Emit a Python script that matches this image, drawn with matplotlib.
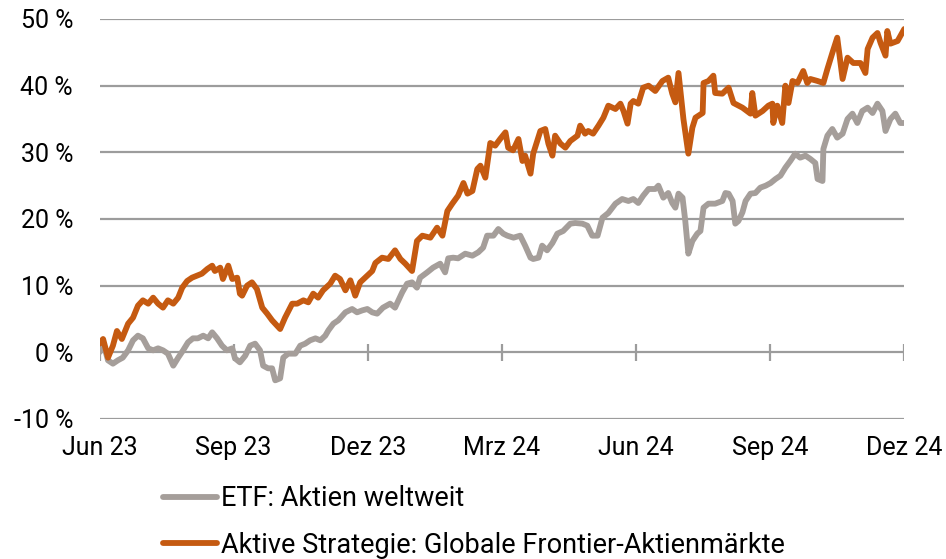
import matplotlib
matplotlib.use("Agg")
import matplotlib.pyplot as plt

plt.rcParams['font.family'] = ['Roboto', 'DejaVu Sans']

# x: months since June 2023 ; y: performance in %
month_ticks = [0, 3, 6, 9, 12, 15, 18]
month_labels = ["Jun 23", "Sep 23", "Dez 23", "Mrz 24", "Jun 24", "Sep 24", "Dez 24"]
y_ticks = [-10, 0, 10, 20, 30, 40, 50]
y_labels = ["-10 %", "0 %", "10 %", "20 %", "30 %", "40 %", "50 %"]

etf_label = "ETF: Aktien weltweit"
etf_t = [0.00, 0.10, 0.19, 0.30, 0.41, 0.52, 0.64, 0.75, 0.86, 0.97, 1.09, 1.20, 1.31, 1.42,
         1.53, 1.65, 1.76, 1.87, 1.98, 2.09, 2.20, 2.32, 2.43, 2.52, 2.63, 2.74, 2.85, 2.97,
         3.03, 3.14, 3.26, 3.37, 3.48, 3.59, 3.66, 3.77, 3.86, 3.93, 4.04, 4.11, 4.22, 4.38,
         4.49, 4.60, 4.71, 4.83, 4.94, 5.05, 5.12, 5.23, 5.34, 5.50, 5.65, 5.76, 5.88, 5.99,
         6.10, 6.21, 6.34, 6.50, 6.61, 6.77, 6.88, 6.99, 7.10, 7.17, 7.33, 7.46, 7.62, 7.73,
         7.80, 7.91, 8.02, 8.18, 8.34, 8.47, 8.58, 8.67, 8.81, 8.92, 9.03, 9.12, 9.26, 9.41,
         9.52, 9.64, 9.70, 9.82, 9.90, 10.01, 10.13, 10.24, 10.37, 10.53, 10.64, 10.80, 10.91,
         11.02, 11.14, 11.25, 11.38, 11.54, 11.69, 11.83, 11.94, 12.05, 12.16, 12.28, 12.43,
         12.50, 12.61, 12.72, 12.81, 12.88, 12.95, 13.04, 13.10, 13.17, 13.26, 13.37, 13.44,
         13.51, 13.62, 13.77, 13.93, 14.00, 14.07, 14.16, 14.22, 14.29, 14.38, 14.45, 14.56,
         14.67, 14.78, 14.90, 15.01, 15.12, 15.23, 15.34, 15.45, 15.56, 15.67, 15.79, 15.90,
         16.01, 16.06, 16.17, 16.19, 16.28, 16.39, 16.50, 16.62, 16.73, 16.84, 16.95, 17.06,
         17.18, 17.29, 17.40, 17.51, 17.58, 17.69, 17.80, 17.91, 18.00]
etf_v = [0.0, 1.0, -1.2, -1.7, -1.2, -0.8, 0.3, 1.8, 2.5, 2.1, 0.6, 0.3, 0.6, 0.3,
         -0.2, -2.0, -0.8, 0.3, 1.5, 2.1, 2.1, 2.5, 2.1, 3.0, 2.1, 1.0, 0.3, 0.6,
         -0.9, -1.5, -0.5, 1.0, 1.3, 0.3, -2.0, -2.4, -2.4, -4.2, -3.9, -0.8, -0.2, -0.2,
         1.0, 1.3, 1.8, 2.1, 1.8, 2.5, 3.3, 4.3, 4.8, 6.0, 6.5, 6.0, 6.3, 6.5,
         6.0, 5.8, 6.7, 7.3, 6.7, 9.0, 10.3, 10.5, 9.7, 11.2, 12.0, 12.7, 13.3, 12.0,
         14.1, 14.2, 14.1, 14.8, 14.5, 15.0, 15.7, 17.5, 17.5, 18.5, 17.8, 17.5, 17.2, 17.5,
         16.0, 14.2, 14.0, 14.2, 16.0, 15.3, 16.4, 17.8, 18.2, 19.3, 19.4, 19.3, 19.0,
         17.5, 17.5, 20.2, 20.9, 22.3, 23.0, 22.7, 23.0, 22.4, 23.5, 24.5, 24.5,
         25.0, 23.2, 23.9, 22.4, 21.7, 23.8, 23.2, 19.8, 14.8, 16.7, 17.8, 18.2,
         21.7, 22.3, 22.3, 22.7, 23.9, 23.8, 22.7, 19.3, 19.7, 21.0, 22.7, 23.8,
         23.9, 24.7, 25.0, 25.4, 26.0, 26.5, 27.7, 28.7, 29.8, 29.2, 29.5, 29.0,
         28.4, 26.0, 25.7, 30.5, 32.5, 33.5, 32.2, 32.8, 35.0, 35.8, 34.4, 36.2,
         36.7, 35.9, 37.3, 36.2, 33.2, 35.0, 35.8, 34.4, 34.4]

akt_label = "Aktive Strategie: Globale Frontier-Aktienmärkte"
akt_t = [0.00, 0.08, 0.19, 0.30, 0.39, 0.50, 0.64, 0.75, 0.86, 0.97, 1.09, 1.20, 1.31, 1.42,
         1.53, 1.65, 1.76, 1.85, 1.96, 2.07, 2.18, 2.29, 2.41, 2.52, 2.58, 2.70, 2.76, 2.88,
         2.97, 3.08, 3.14, 3.19, 3.30, 3.41, 3.52, 3.64, 3.75, 3.86, 3.97, 4.04, 4.15, 4.31,
         4.42, 4.56, 4.67, 4.78, 4.89, 5.00, 5.16, 5.27, 5.38, 5.50, 5.61, 5.72, 5.83, 5.99,
         6.10, 6.17, 6.32, 6.46, 6.61, 6.73, 6.84, 6.99, 7.10, 7.22, 7.40, 7.55, 7.67, 7.78,
         7.89, 8.02, 8.14, 8.23, 8.34, 8.45, 8.52, 8.63, 8.74, 8.85, 8.96, 9.08, 9.14, 9.25,
         9.37, 9.46, 9.52, 9.64, 9.70, 9.86, 9.97, 10.04, 10.13, 10.19, 10.31, 10.42, 10.53,
         10.69, 10.75, 10.86, 10.93, 11.04, 11.16, 11.27, 11.38, 11.54, 11.65, 11.72, 11.81,
         11.88, 11.94, 12.05, 12.16, 12.28, 12.43, 12.59, 12.72, 12.81, 12.88, 12.95, 13.06,
         13.17, 13.26, 13.33, 13.49, 13.51, 13.62, 13.73, 13.77, 13.93, 14.07, 14.18, 14.38,
         14.56, 14.60, 14.67, 14.83, 14.96, 15.05, 15.07, 15.16, 15.27, 15.34, 15.41, 15.50,
         15.61, 15.74, 15.83, 15.90, 16.06, 16.19, 16.28, 16.39, 16.50, 16.62, 16.73, 16.86,
         17.02, 17.13, 17.18, 17.29, 17.40, 17.47, 17.58, 17.62, 17.69, 17.85, 18.00]
akt_v = [1.3, 2.0, -0.8, 1.0, 3.2, 2.0, 4.3, 5.2, 7.0, 7.8, 7.3, 8.2, 7.3, 6.7,
         7.8, 7.3, 8.2, 9.7, 10.7, 11.2, 11.5, 11.8, 12.5, 13.0, 12.2, 12.7, 11.0, 13.0,
         11.0, 11.2, 8.8, 8.5, 10.0, 10.5, 9.5, 6.7, 5.8, 4.8, 4.0, 3.5, 5.2, 7.3,
         7.3, 7.8, 7.5, 8.8, 8.2, 9.3, 10.3, 11.5, 11.0, 9.3, 10.8, 8.5, 10.5, 11.5,
         12.2, 13.4, 14.2, 14.0, 15.3, 14.0, 13.3, 12.2, 16.7, 17.5, 17.2, 18.7, 17.5, 21.2,
         22.3, 23.5, 25.4, 23.8, 24.2, 27.5, 28.0, 26.2, 31.4, 31.0, 32.0, 33.0, 30.7, 30.3,
         32.0, 28.7, 29.5, 26.8, 29.8, 33.2, 33.5, 31.3, 29.5, 32.5, 31.3, 30.7, 31.7,
         32.5, 34.0, 32.8, 33.2, 32.8, 34.0, 35.2, 37.0, 36.5, 37.3, 36.2, 34.3,
         37.3, 37.7, 37.3, 39.7, 40.0, 39.2, 40.7, 41.2, 38.8, 37.5, 41.9, 35.0,
         29.8, 33.7, 35.2, 35.9, 40.4, 40.7, 41.5, 38.9, 38.8, 39.7, 37.4, 36.7,
         35.8, 38.9, 35.5, 36.2, 37.0, 37.3, 34.4, 37.0, 34.4, 40.0, 37.4, 40.7,
         40.4, 42.2, 40.4, 41.0, 40.7, 40.4, 42.5, 44.9, 47.2, 41.0, 44.2, 43.4,
         43.4, 41.9, 45.5, 47.2, 47.9, 46.4, 44.5, 48.2, 46.3, 46.7, 48.5]

GRAY = "#A59E9A"
ORANGE = "#C55A11"
GRID = "#9C9C9C"
FS = 18
LEG_FS = 19.5

fig = plt.figure(figsize=(9.46, 5.59), dpi=100)
ax = fig.add_axes([99.5 / 946, (559 - 419) / 559, (904.3 - 99.5) / 946, 400 / 559])

ax.set_xlim(0, 18)
ax.set_ylim(-10, 50)

for yt in y_ticks:
    ax.axhline(yt, color=GRID, lw=1.6, zorder=1)
ax.vlines(month_ticks, -1.25, 1.25, color=GRID, lw=1.6, zorder=1)

ax.plot(etf_t, etf_v, color=GRAY, lw=4.2, solid_joinstyle='round', solid_capstyle='round',
        zorder=3, label=etf_label)
ax.plot(akt_t, akt_v, color=ORANGE, lw=4.2, solid_joinstyle='round', solid_capstyle='round',
        zorder=4, label=akt_label)

for s in ax.spines.values():
    s.set_visible(False)
ax.set_yticks(y_ticks)
ax.set_yticklabels(y_labels)
ax.set_xticks(month_ticks)
ax.set_xticklabels(month_labels)
ax.tick_params(axis='both', length=0, labelsize=FS, colors="#000000")
ax.tick_params(axis='y', pad=19)
ax.tick_params(axis='x', pad=12)

leg = fig.legend(loc='upper left', bbox_to_anchor=(163 / 946, 1 - 485 / 559), frameon=False,
                 fontsize=LEG_FS, handlelength=2.0, handletextpad=0.15, labelspacing=0.73,
                 borderaxespad=0, borderpad=0)
for line in leg.get_lines():
    line.set_linewidth(4.2)
    line.set_solid_capstyle('round')

fig.savefig("out.png", dpi=100)
